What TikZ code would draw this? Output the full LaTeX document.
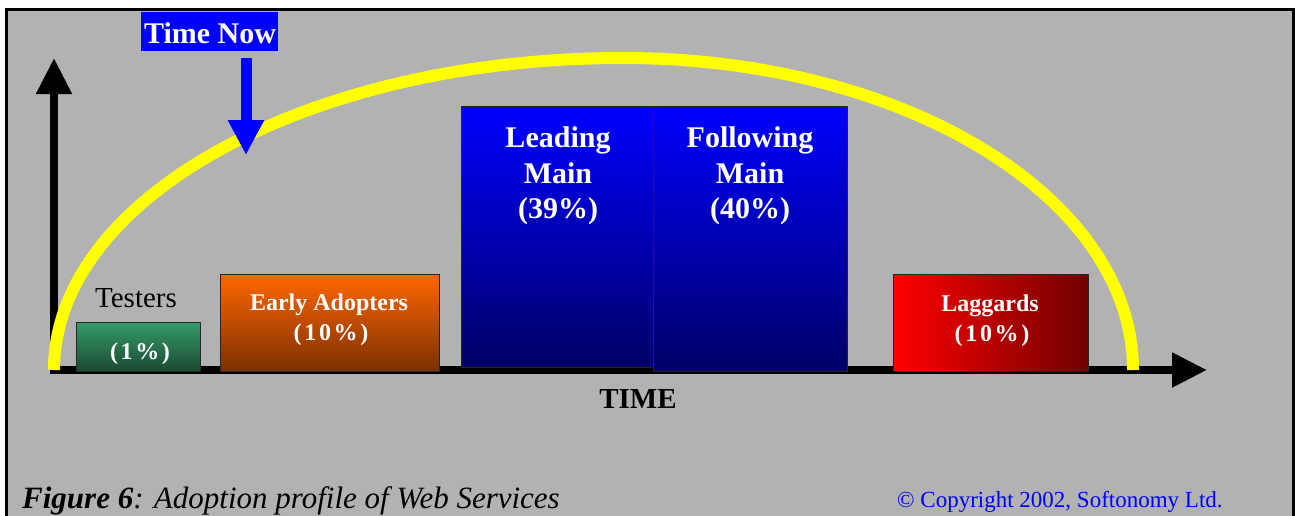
\documentclass[tikz,border=0pt]{standalone}
\usepackage{fontspec}
\setmainfont{Liberation Serif}
\usetikzlibrary{arrows.meta}
\definecolor{panel}{HTML}{B2B2B2}
\definecolor{nowblue}{HTML}{0000FF}
\definecolor{greentop}{HTML}{349A68}
\definecolor{greenbot}{HTML}{1B4A33}
\definecolor{orangetop}{HTML}{FF6600}
\definecolor{orangebot}{HTML}{7A3000}
\definecolor{bluetop}{HTML}{0000FF}
\definecolor{bluebot}{HTML}{000066}
\definecolor{redleft}{HTML}{FF0000}
\definecolor{redright}{HTML}{700000}
\definecolor{curve}{HTML}{FFFF00}
\begin{document}
\begin{tikzpicture}[x=1pt,y=-1pt,
  segbox/.style={draw=black!85, line width=1.2pt, inner sep=0pt, anchor=north west},
  bigtxt/.style={text=white, inner sep=0pt, anchor=base, font=\fontsize{30}{36}\selectfont\bfseries},
  midtxt/.style={text=white, inner sep=0pt, anchor=base, font=\fontsize{24}{30}\selectfont\bfseries},
  pcttxt/.style={midtxt, font=\fontsize{24}{30}\selectfont\bfseries\addfontfeature{LetterSpace=11}},
  axis/.style={line width=8pt, draw=black},
  nowarrow/.style={line width=11pt, draw=nowblue, -{Triangle[width=34pt,length=35pt]}}]
\useasboundingbox (0,0) rectangle (1295,515);
\fill[white] (0,0) rectangle (1295,515);
% panel with black frame
\draw[line width=3pt, fill=panel] (6.5,9.5) rectangle (1293.5,518);

% axes
\coordinate (origin) at (54,374);
\coordinate (ytip) at (54,58);
\coordinate (xstart) at (50,370);
\coordinate (xtip) at (1207,370);
\draw[axis, -{Triangle[width=34pt,length=36pt]}] (origin) -- (ytip);
\draw[axis, -{Triangle[width=33pt,length=35pt]}] (xstart) -- (xtip);

% adoption segments
\node[segbox, minimum width=124pt, minimum height=49pt, top color=greentop, bottom color=greenbot] (testers) at (76,322) {};
\node[segbox, minimum width=219pt, minimum height=97pt, top color=orangetop, bottom color=orangebot] (early) at (220,274) {};
\node[segbox, minimum width=192pt, minimum height=261pt, top color=bluetop, bottom color=bluebot] (leading) at (461,106) {};
\node[segbox, minimum width=194pt, minimum height=265pt, top color=bluetop, bottom color=bluebot] (following) at (653,106) {};
\node[segbox, minimum width=195pt, minimum height=97pt, left color=redleft, right color=redright] (laggards) at (893,274) {};

% segment labels
\node[inner sep=0pt, anchor=base, font=\fontsize{29}{34}\selectfont] (testerstitle) at (136,307) {Testers};
\node[pcttxt] (testerspct) at (140,359) {(1\%)};
\node[midtxt] (earlytitle) at (329,310) {Early Adopters};
\node[pcttxt] (earlypct) at (331,340) {(10\%)};
\node[bigtxt] (lead1) at (558,147) {Leading};
\node[bigtxt] (lead2) at (558,183) {Main};
\node[bigtxt] (lead3) at (558,218) {(39\%)};
\node[bigtxt] (foll1) at (750,147) {Following};
\node[bigtxt] (foll2) at (750,183) {Main};
\node[bigtxt] (foll3) at (750,218) {(40\%)};
\node[midtxt] (lagtitle) at (990,311) {Laggards};
\node[pcttxt] (lagpct) at (992,341) {(10\%)};

% adoption curve: two quarter ellipses meeting at the peak
\coordinate (curvestart) at (54,370);
\draw[curve, line width=12pt, line cap=butt] (curvestart)
  arc[start angle=180, end angle=270, x radius=569, y radius=312]
  arc[start angle=270, end angle=360, x radius=510, y radius=312];

% time-now marker
\node[fill=nowblue, text=white, inner sep=0pt, minimum width=137pt, minimum height=39pt, anchor=north west] (nowbox) at (141,12) {};
\node[inner sep=0pt, anchor=base, text=white, font=\fontsize{30}{36}\selectfont\bfseries] (nowtext) at (210,43) {Time Now};
\coordinate (nowtop) at (246,58);
\coordinate (nowtip) at (246,155);
\draw[nowarrow] (nowtop) -- (nowtip);

% axis title, caption and copyright
\node[inner sep=0pt, anchor=base, font=\fontsize{29}{34}\selectfont\bfseries] (timelabel) at (638,408) {TIME};
\node[inner sep=0pt, anchor=base west, font=\fontsize{31}{36}\selectfont\itshape] (caption) at (22,508) {{\bfseries Figure 6}: Adoption profile of Web Services};
\node[inner sep=0pt, anchor=base west, text=nowblue, font=\fontsize{23}{28}\selectfont] (copyright) at (897,507) {© Copyright 2002, Softonomy Ltd.};
\end{tikzpicture}
\end{document}
